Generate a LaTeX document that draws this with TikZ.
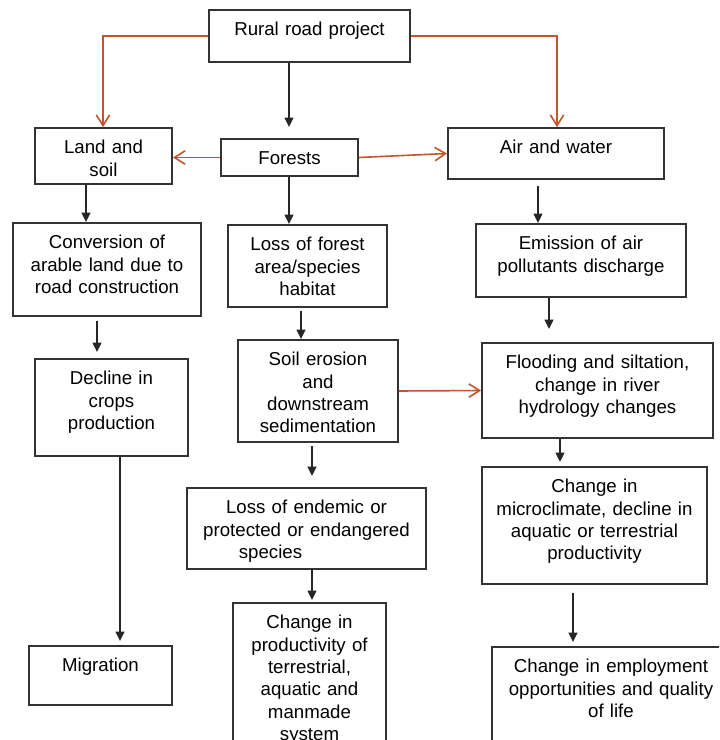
\documentclass[tikz,border=0pt]{standalone}
\usepackage{fontspec}
\setmainfont{Liberation Sans}
\usetikzlibrary{arrows.meta,fit}
\definecolor{rust}{RGB}{196,84,44}
\newcommand\bx[6]{%
  \node[box, fit={(#2,#3) (#4,#5)}] (#1) {};
  \node[txt] (#1t) at ([yshift=-20pt]#1.north) {#6};}
\begin{document}
\begin{tikzpicture}[x=0.75pt,y=-0.75pt,
  box/.style={draw=black!80, line width=1.4pt, inner sep=0pt},
  txt/.style={font=\fontsize{14}{16.8}\selectfont, text width=250pt, align=center, inner sep=0pt, anchor=base},
  barr/.style={draw=black!85, line width=1.2pt, -{Triangle[length=7pt,width=6.5pt]}},
  oarr/.style={draw=rust, line width=1.2pt, -{Straight Barb[length=8pt,width=10pt]}}]
\fill[white] (0,0) rectangle (719,740);
\clip (0,0) rectangle (719,740);

\bx{rural}{209}{10}{410}{62}{Rural road project}
\bx{land}{35}{128}{172}{184}{Land and\\soil}
\bx{forests}{221}{139}{358}{176}{Forests}
\bx{air}{448}{128}{664}{179}{Air and water}
\bx{conv}{13}{223}{201}{316}{Conversion of\\arable land due to\\road construction}
\bx{lossf}{228}{225}{387}{307}{Loss of forest\\area/species\\habitat}
\bx{emis}{476}{224}{686}{297}{Emission of air\\pollutants discharge}
\bx{decline}{35}{359}{188}{456}{Decline in\\crops\\production}
\bx{soil}{238}{340}{398}{442}{Soil erosion\\and\\downstream\\sedimentation}
\bx{flood}{482}{343}{713}{438}{Flooding and siltation,\\change in river\\hydrology changes}
\bx{endemic}{187}{488}{426}{569}{Loss of endemic or\\protected or endangered\\species\rule{54pt}{0pt}}
\bx{micro}{482}{467}{707}{584}{Change in\\microclimate, decline in\\aquatic or terrestrial\\productivity}
\bx{migr}{29}{646}{172}{705}{Migration}
\bx{prod}{233}{603}{386}{770}{Change in\\productivity of\\terrestrial,\\aquatic and\\manmade\\system}
\bx{employ}{492}{647}{730}{770}{Change in employment\\opportunities and quality\\of life}

\coordinate (xa) at (86,0);
\coordinate (xb) at (289,0);
\coordinate (xc) at (538,0);
\coordinate (xd) at (97,0);
\coordinate (xe) at (301,0);
\coordinate (xf) at (549,0);
\coordinate (xg) at (120,0);
\coordinate (xi) at (312,0);
\coordinate (xj) at (560,0);
\coordinate (xl) at (573,0);
\coordinate (xland) at (103,0);
\coordinate (xair) at (557,0);

\draw[oarr] (rural.west) -| (land.north -| xland);
\draw[oarr] (rural.east) -| (air.north -| xair);
\draw[barr, shorten >=8.25pt] (rural.south -| xb) -- (forests.north -| xb);
\draw[oarr] (forests.west) -- (forests.west -| land.east);
\draw[oarr] (forests.east) -- (air.west);
\draw[barr] (land.south -| xa) -- (conv.north -| xa);
\draw[barr] (forests.south -| xb) -- (lossf.north -| xb);
\draw[barr, shorten <=4.5pt] (air.south -| xc) -- (emis.north -| xc);
\draw[barr, shorten <=3pt, shorten >=4.5pt] (conv.south -| xd) -- (decline.north -| xd);
\draw[barr, shorten <=2.25pt] (lossf.south -| xe) -- (soil.north -| xe);
\draw[barr, shorten >=9.75pt] (emis.south -| xf) -- (flood.north -| xf);
\draw[barr, shorten >=3pt] (decline.south -| xg) -- (migr.north -| xg);
\draw[oarr] (soil.east) -- (flood.west);
\draw[barr, shorten <=2.25pt, shorten >=8.25pt] (soil.south -| xi) -- (endemic.north -| xi);
\draw[barr, shorten >=3pt] (flood.south -| xj) -- (micro.north -| xj);
\draw[barr, shorten >=1.5pt] (endemic.south -| xi) -- (prod.north -| xi);
\draw[barr, shorten <=6pt, shorten >=3pt] (micro.south -| xl) -- (employ.north -| xl);
\end{tikzpicture}
\end{document}
